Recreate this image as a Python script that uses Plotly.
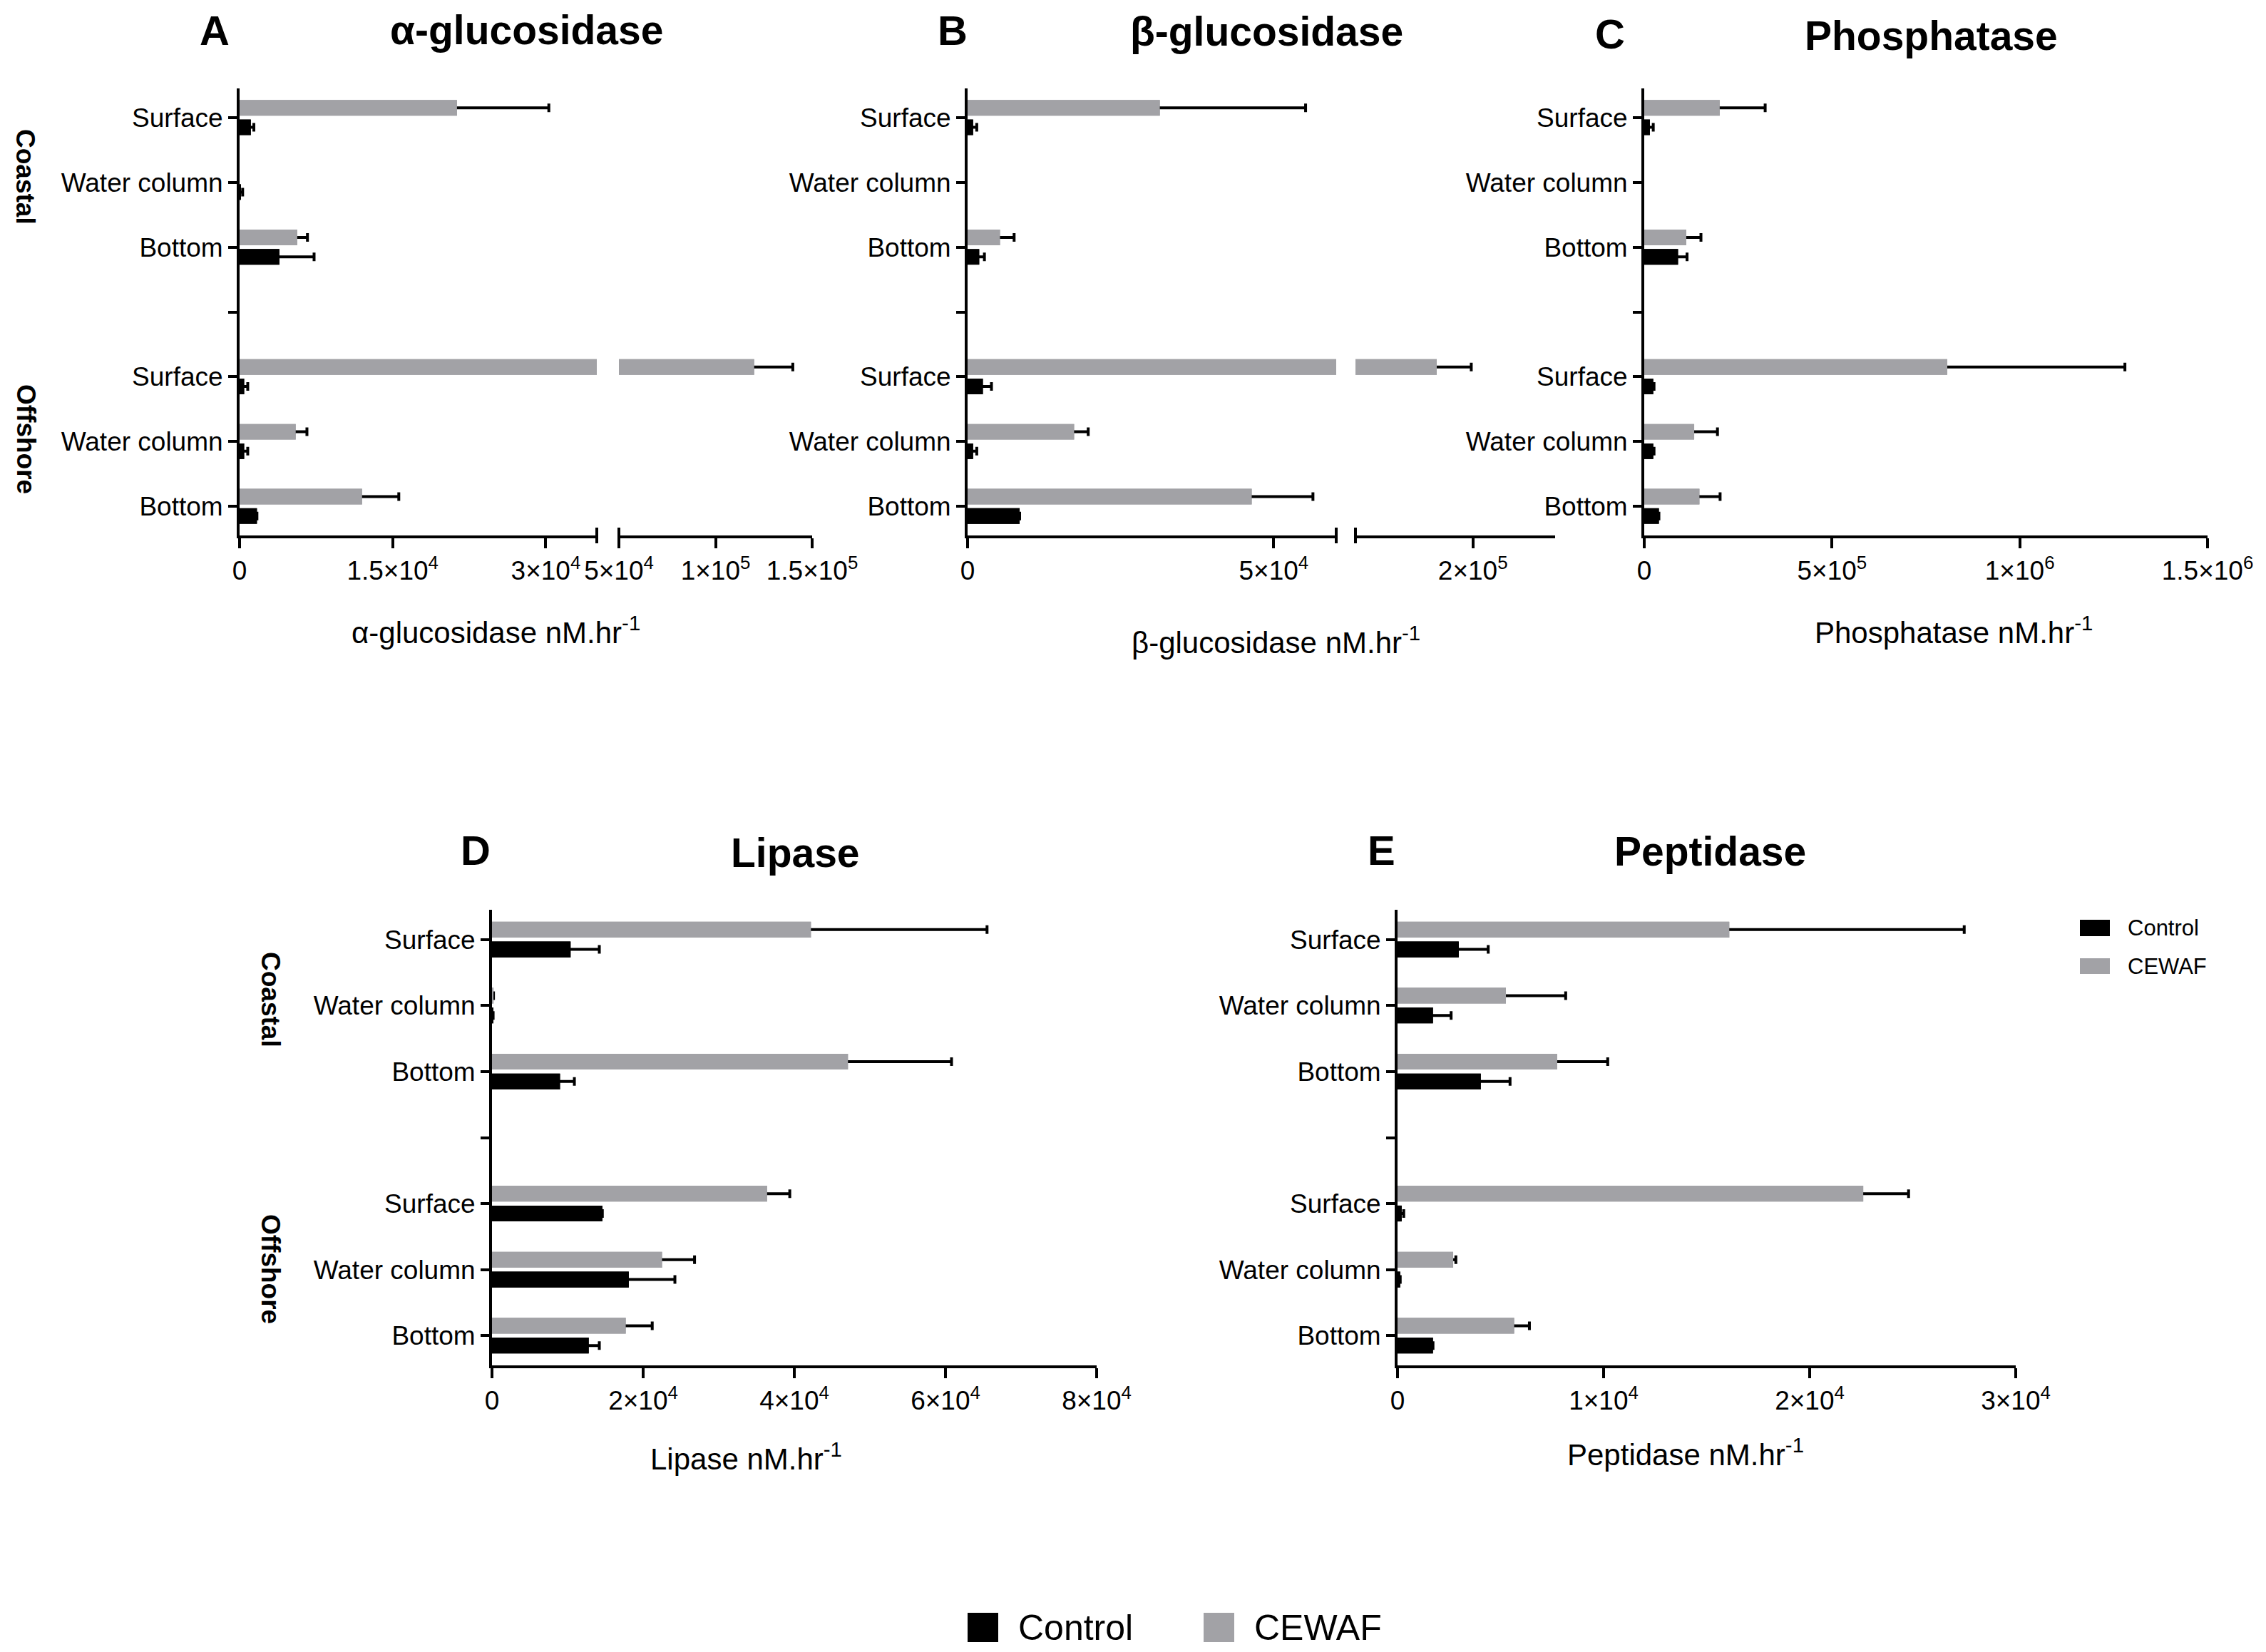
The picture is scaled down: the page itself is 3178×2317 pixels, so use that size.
import plotly.graph_objects as go

# =========================
# DATA (nM.hr-1)
# row order: Coastal Surface, Water column, Bottom, Offshore Surface, Water column, Bottom
# =========================
sites = ["Coastal", "Offshore"]
depths = ["Surface", "Water column", "Bottom"]
treatments = ["Control", "CEWAF"]

aglu_cewaf = [21300, None, 5650, 120000, 5500, 12000]
aglu_cewaf_err = [9000, None, 1000, 20000, 1100, 3600]
aglu_ctrl = [1100, 100, 3900, 450, 450, 1700]
aglu_ctrl_err = [300, 200, 3400, 350, 350, None]

bglu_cewaf = [31400, None, 5300, 184600, 17400, 46400]
bglu_cewaf_err = [23800, None, 2300, 14700, 2300, 10000]
bglu_ctrl = [900, None, 1900, 2500, 900, 8500]
bglu_ctrl_err = [600, None, 850, 1400, 600, None]

phos_cewaf = [201000, None, 112000, 807000, 133000, 147000]
phos_cewaf_err = [121000, None, 39000, 473000, 62000, 55000]
phos_ctrl = [15000, None, 90000, 24000, 24000, 39000]
phos_ctrl_err = [9000, None, 24000, 2000, 2000, None]

lip_cewaf = [42200, 200, 47100, 36400, 22500, 17700]
lip_cewaf_err = [23300, None, 13700, 3000, 4300, 3500]
lip_ctrl = [10400, 150, 9000, 14600, 18100, 12800]
lip_ctrl_err = [3800, None, 1900, None, 6100, 1400]

pep_cewaf = [16100, 5260, 7750, 22600, 2700, 5660]
pep_cewaf_err = [11400, 2900, 2450, 2200, 130, 740]
pep_ctrl = [2970, 1720, 4040, 200, 130, 1720]
pep_ctrl_err = [1430, 880, 1420, 100, None, None]

# tick labels
aglu_ticks1 = [0, 15000, 30000]
aglu_text1 = ["0", "1.5×10<sup>4</sup>", "3×10<sup>4</sup>"]
aglu_ticks2 = [50000, 100000, 150000]
aglu_text2 = ["5×10<sup>4</sup>", "1×10<sup>5</sup>", "1.5×10<sup>5</sup>"]
bglu_ticks1 = [0, 50000]
bglu_text1 = ["0", "5×10<sup>4</sup>"]
bglu_ticks2 = [200000]
bglu_text2 = ["2×10<sup>5</sup>"]
phos_ticks = [0, 500000, 1000000, 1500000]
phos_text = ["0", "5×10<sup>5</sup>", "1×10<sup>6</sup>", "1.5×10<sup>6</sup>"]
lip_ticks = [0, 20000, 40000, 60000, 80000]
lip_text = ["0", "2×10<sup>4</sup>", "4×10<sup>4</sup>", "6×10<sup>4</sup>", "8×10<sup>4</sup>"]
pep_ticks = [0, 10000, 20000, 30000]
pep_text = ["0", "1×10<sup>4</sup>", "2×10<sup>4</sup>", "3×10<sup>4</sup>"]

# =========================
# STYLE / LAYOUT HELPERS
# =========================
W, H = 3178, 2317
PAGE_PAD = 8  # default body margin of the html page
GREY = "#a2a2a6"
FONT = "Liberation Sans"


def px(x):
    return (x - PAGE_PAD) / W


def py(y):
    return 1 - (y - PAGE_PAD) / H


cats = [sites[0] + " " + d for d in depths] + ["gap"] + [sites[1] + " " + d for d in depths]
labels = depths + [""] + depths


def with_gap(v):
    v = list(v)
    return v[:3] + [None] + v[3:]


panels = [
    dict(letter="A", title="α-glucosidase", xlabel="α-glucosidase nM.hr<sup>-1</sup>",
         cewaf=aglu_cewaf, cewaf_err=aglu_cewaf_err, ctrl=aglu_ctrl, ctrl_err=aglu_ctrl_err,
         segs=[dict(l=336, r=837, rng=[0, 35000], tv=aglu_ticks1, tt=aglu_text1),
               dict(l=868, r=1139, rng=[50000, 150000], tv=aglu_ticks2, tt=aglu_text2)],
         top=124, bot=751, letter_xy=(301, 42), title_xy=(738, 42), xlabel_xy=(695, 884), group_x=36,
         groups_y=(248, 616)),
    dict(letter="B", title="β-glucosidase", xlabel="β-glucosidase nM.hr<sup>-1</sup>",
         cewaf=bglu_cewaf, cewaf_err=bglu_cewaf_err, ctrl=bglu_ctrl, ctrl_err=bglu_ctrl_err,
         segs=[dict(l=1357, r=1874, rng=[0, 60200], tv=bglu_ticks1, tt=bglu_text1),
               dict(l=1901, r=2181, rng=[150000, 235000], tv=bglu_ticks2, tt=bglu_text2)],
         top=124, bot=751, letter_xy=(1336, 42), title_xy=(1776, 44), xlabel_xy=(1789, 898), group_x=None),
    dict(letter="C", title="Phosphatase", xlabel="Phosphatase nM.hr<sup>-1</sup>",
         cewaf=phos_cewaf, cewaf_err=phos_cewaf_err, ctrl=phos_ctrl, ctrl_err=phos_ctrl_err,
         segs=[dict(l=2306, r=3096, rng=[0, 1500000], tv=phos_ticks, tt=phos_text)],
         top=124, bot=751, letter_xy=(2258, 48), title_xy=(2708, 50), xlabel_xy=(2740, 884), group_x=None),
    dict(letter="D", title="Lipase", xlabel="Lipase nM.hr<sup>-1</sup>",
         cewaf=lip_cewaf, cewaf_err=lip_cewaf_err, ctrl=lip_ctrl, ctrl_err=lip_ctrl_err,
         segs=[dict(l=690, r=1538, rng=[0, 80000], tv=lip_ticks, tt=lip_text)],
         top=1276, bot=1915, letter_xy=(667, 1192), title_xy=(1115, 1196), xlabel_xy=(1046, 2043), group_x=380,
         groups_y=(1402, 1780)),
    dict(letter="E", title="Peptidase", xlabel="Peptidase nM.hr<sup>-1</sup>",
         cewaf=pep_cewaf, cewaf_err=pep_cewaf_err, ctrl=pep_ctrl, ctrl_err=pep_ctrl_err,
         segs=[dict(l=1960, r=2827, rng=[0, 30000], tv=pep_ticks, tt=pep_text)],
         top=1276, bot=1915, letter_xy=(1937, 1192), title_xy=(2398, 1194), xlabel_xy=(2364, 2037), group_x=None),
]

fig = go.Figure()
axes = {}
shapes = []
annotations = []


def note(text, x, y, size, bold=False, angle=0, xanchor="center"):
    annotations.append(dict(
        text=text, x=px(x), y=py(y), xref="paper", yref="paper", showarrow=False,
        xanchor=xanchor, yanchor="middle", textangle=angle, borderpad=0,
        font=dict(family=FONT, size=size, color="black", weight="bold" if bold else "normal")))


# =========================
# BUILD PANELS
# =========================
xi = 0
for yi, p in enumerate(panels, start=1):
    yname = "y" if yi == 1 else f"y{yi}"
    ykey = "yaxis" if yi == 1 else f"yaxis{yi}"
    first_x = None
    for si, seg in enumerate(p["segs"]):
        xi += 1
        xname = "x" if xi == 1 else f"x{xi}"
        xkey = "xaxis" if xi == 1 else f"xaxis{xi}"
        if first_x is None:
            first_x = xname
        axes[xkey] = dict(
            domain=[px(seg["l"]), px(seg["r"])], range=seg["rng"], anchor=yname,
            tickmode="array", tickvals=seg["tv"], ticktext=seg["tt"],
            showline=True, linecolor="black", linewidth=4,
            ticks="outside", ticklen=14, tickwidth=4, tickcolor="black",
            showgrid=False, zeroline=False, fixedrange=True, automargin=False,
            tickfont=dict(family=FONT, size=37, color="black"))
        # broken axis marks
        if len(p["segs"]) > 1:
            edge = seg["r"] if si == 0 else seg["l"]
            shapes.append(dict(type="line", xref="paper", yref="paper",
                               x0=px(edge), x1=px(edge), y0=py(p["bot"] - 11), y1=py(p["bot"] + 11),
                               line=dict(color="black", width=4)))

        for name, vals, errs, color, grp in [
            (treatments[1], p["cewaf"], p["cewaf_err"], GREY, "cewaf"),
            (treatments[0], p["ctrl"], p["ctrl_err"], "black", "ctrl"),
        ]:
            # lower copy carries the error bar, upper copy hides its inner part
            fig.add_trace(go.Bar(
                y=cats, x=with_gap(vals), orientation="h", offsetgroup=grp, name=name,
                marker=dict(color=color, line=dict(width=0)),
                error_x=dict(type="data", symmetric=False, array=with_gap(errs),
                             arrayminus=with_gap(vals), color="black", thickness=4, width=6),
                xaxis=xname, yaxis=yname, showlegend=False))
            fig.add_trace(go.Bar(
                y=cats, x=with_gap(vals), orientation="h", offsetgroup=grp, name=name,
                marker=dict(color=color, line=dict(width=0)),
                xaxis=xname, yaxis=yname, showlegend=False))

    axes[ykey] = dict(
        domain=[py(p["bot"]), py(p["top"])], anchor=first_x, type="category",
        categoryorder="array", categoryarray=cats, range=[6.45, -0.45],
        tickmode="array", tickvals=cats, ticktext=labels,
        showline=True, linecolor="black", linewidth=4,
        ticks="outside", ticklen=12, tickwidth=4, tickcolor="black",
        showgrid=False, zeroline=False, fixedrange=True, automargin=False,
        tickfont=dict(family=FONT, size=37, color="black"))

    note(p["letter"], *p["letter_xy"], 58, bold=True)
    note(p["title"], *p["title_xy"], 57, bold=True)
    note(p["xlabel"], *p["xlabel_xy"], 42)
    if p["group_x"] is not None:
        for s, gy in zip(sites, p["groups_y"]):
            note(s, p["group_x"], gy, 37, bold=True, angle=90)

# =========================
# LEGENDS (panel E and bottom)
# =========================
for name, color, y0, y1 in [(treatments[0], "black", 1290, 1313), (treatments[1], GREY, 1344, 1366)]:
    shapes.append(dict(type="rect", xref="paper", yref="paper", x0=px(2917), x1=px(2959),
                       y0=py(y1), y1=py(y0), fillcolor=color, line=dict(width=0)))
    note(name, 2983, (y0 + y1) / 2, 31, xanchor="left")

for name, color, x0 in [(treatments[0], "black", 1357), (treatments[1], GREY, 1688)]:
    shapes.append(dict(type="rect", xref="paper", yref="paper", x0=px(x0), x1=px(x0 + 43),
                       y0=py(2303), y1=py(2262), fillcolor=color, line=dict(width=0)))
    note(name, x0 + 70, 2283, 50, xanchor="left")

fig.update_layout(
    width=W, height=H,
    margin=dict(l=0, r=0, t=0, b=0, autoexpand=False),
    paper_bgcolor="white", plot_bgcolor="white",
    barmode="group", bargap=0.4, bargroupgap=0.2,
    font=dict(family=FONT, color="black"),
    shapes=shapes, annotations=annotations,
    **axes)

fig.write_html("out.html")
